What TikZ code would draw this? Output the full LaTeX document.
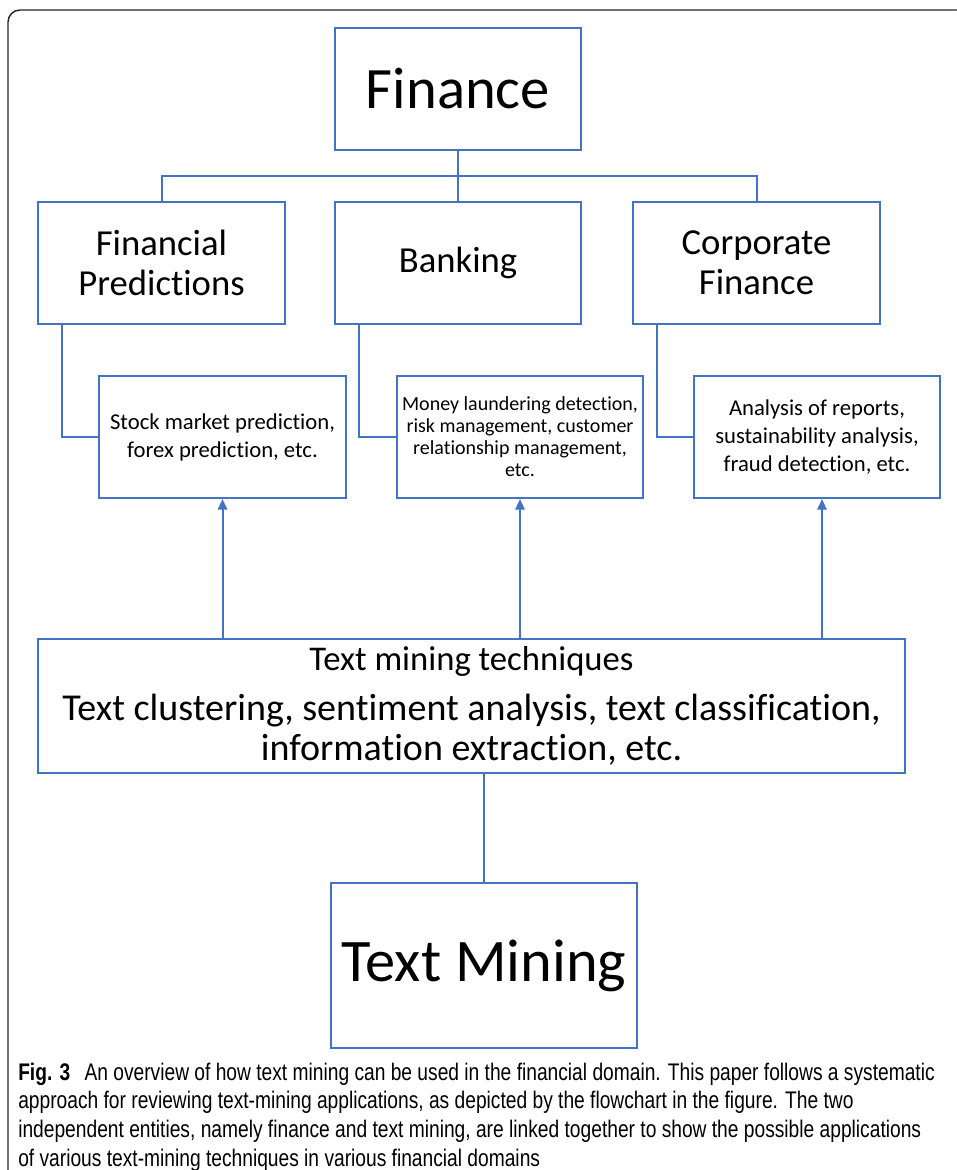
\documentclass[tikz,border=0pt]{standalone}
\usepackage{fontspec}
\setmainfont[Ligatures=NoCommon]{Carlito}
\newfontfamily\capfont[FakeStretch=0.80]{Liberation Sans}
\usetikzlibrary{arrows.meta,calc}
\definecolor{boxblue}{HTML}{4472C4}
\tikzset{
  bx/.style={draw=boxblue, line width=1.5pt, rectangle, inner sep=0pt, align=center, text=black},
  conn/.style={draw=boxblue, line width=1.5pt},
  arr/.style={conn, -{Triangle[length=8pt,width=7pt]}},
  bigtxt/.style={font=\fontsize{44}{50}\selectfont},
  midtxt/.style={font=\fontsize{27.5}{30}\selectfont},
  smalltxt/.style={font=\fontsize{17}{21}\selectfont},
}
\newcommand{\tmhead}{\fontsize{26}{30}\selectfont}
\newcommand{\tmbody}{\fontsize{28.5}{30}\selectfont}
\begin{document}
\begin{tikzpicture}[x=0.75pt,y=-0.75pt]
\useasboundingbox (0,0) rectangle (956,1170);
\fill[white] (0,0) rectangle (956,1170);
% outer frame
\draw[line width=1.1pt, black!85, rounded corners=9pt] (8,1200) -- (8,10) -- (1000,10);

\node[bx, bigtxt, minimum width=246*0.75pt, minimum height=122*0.75pt] (fin) at (458,89) {Finance};
\node[bx, midtxt, minimum width=247*0.75pt, minimum height=122*0.75pt] (fp) at (161.5,263) {Financial\\Predictions};
\node[bx, midtxt, minimum width=246*0.75pt, minimum height=122*0.75pt] (bank) at (458,263) {Banking};
\node[bx, midtxt, minimum width=247*0.75pt, minimum height=122*0.75pt] (cf) at (756.5,263) {Corporate\\Finance};

\node[bx, smalltxt, minimum width=247*0.75pt, minimum height=122*0.75pt] (stock) at (222.5,437) {Stock market prediction,\\forex prediction, etc.};
\node[bx, font=\fontsize{15}{16.5}\selectfont, minimum width=246*0.75pt, minimum height=122*0.75pt] (money) at (520,437) {Money laundering detection,\\risk management, customer\\relationship management,\\etc.};
\node[bx, smalltxt, minimum width=246*0.75pt, minimum height=122*0.75pt] (anal) at (817,437) {Analysis of reports,\\sustainability analysis,\\fraud detection, etc.};

\node[bx, font=\tmbody, minimum width=867*0.75pt, minimum height=134*0.75pt] (tmt) at (471.5,706) {{\tmhead Text mining techniques}\\[7.5pt]Text clustering, sentiment analysis, text classification,\\information extraction, etc.};

\node[bx, font=\fontsize{45.3}{50}\selectfont, minimum width=306*0.75pt, minimum height=165*0.75pt] (tm) at (484,965.5) {Text Mining};

% tree from Finance
\coordinate (j) at (458,176);
\draw[conn] (fin.south) -- (bank.north);
\draw[conn] (fp.north) |- (j) -| (cf.north);

% category to application
\draw[conn] ($(fp.south west)+(25,0)$) |- (stock.west);
\draw[conn] ($(bank.south west)+(25,0)$) |- (money.west);
\draw[conn] ($(cf.south west)+(25,0)$) |- (anal.west);

% arrows from techniques
\draw[arr] (tmt.north -| stock.south) -- (stock.south);
\draw[arr] (tmt.north -| money.south) -- (money.south);
\draw[arr] ($(tmt.north -| anal.south)+(5,0)$) -- ($(anal.south)+(5,0)$);

\draw[conn] (tm.north |- tmt.south) -- (tm.north);

% caption
\node[anchor=base west, inner sep=0pt, align=left, font=\capfont\fontsize{18}{21.5}\selectfont] (cap) at (18,1166)
{\textbf{Fig. 3}\hspace{0.6em}An overview of how text mining can be used in the financial domain. This paper follows a systematic\\
approach for reviewing text-mining applications, as depicted by the flowchart in the figure. The two\\
independent entities, namely finance and text mining, are linked together to show the possible applications\\
of various text-mining techniques in various financial domains};
\end{tikzpicture}
\end{document}
